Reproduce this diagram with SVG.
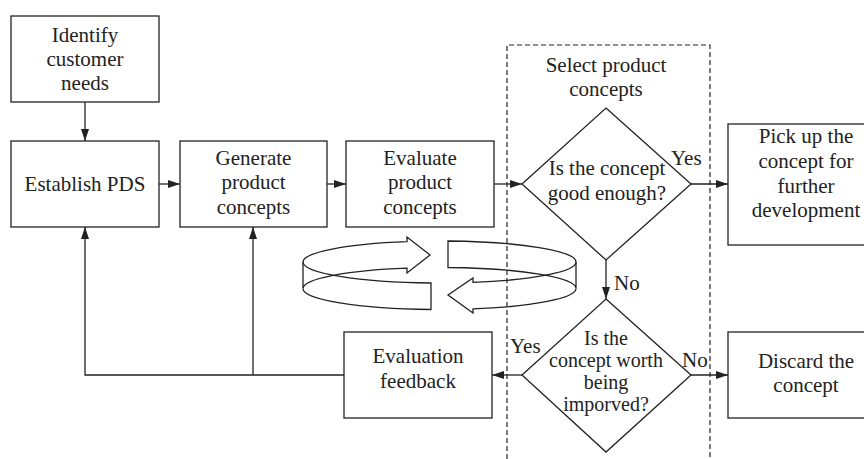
<svg xmlns="http://www.w3.org/2000/svg" width="864" height="459" viewBox="0 0 864 459">
<defs>
<style>
.box{fill:#fff;stroke:#222;stroke-width:1.3}
.ln{fill:none;stroke:#222;stroke-width:1.3}
.ring{fill:none;stroke:#222;stroke-width:1.3;stroke-linejoin:miter}
.dash{fill:none;stroke:#222;stroke-width:1.2;stroke-dasharray:5,3}
text{font-family:"Liberation Serif","Times New Roman",serif;font-size:21px;fill:#222;text-anchor:middle}
.lab{text-anchor:start}
.sm{font-size:20px}
</style>
<marker id="ah" viewBox="0 0 12 8" refX="12" refY="4" markerWidth="12" markerHeight="8" markerUnits="userSpaceOnUse" orient="auto">
<path d="M0,0 L12,4 L0,8 Z" fill="#222"/>
</marker>
</defs>
<rect width="864" height="459" fill="#fff"/>

<g id="cycle">
<path class="ring" d="M303,262 A136.5,21 0 0 1 407,241.6 L407,237 L430,255 L407,273 L407,268.1 A136.5,21 0 0 0 303,288.5 Z"/>
<path class="ring" d="M303,262 A136.5,21 0 0 0 431,283 L431,309.5 A136.5,21 0 0 1 303,288.5"/>
<path class="ring" d="M448,241 L448,267.5 A136.5,21 0 0 1 576,288.5 L576,262 A136.5,21 0 0 0 448,241 Z"/>
<path class="ring" d="M576,262 A136.5,21 0 0 1 473,282.4 L473,278 L448,295 L473,313 L473,308.9 A136.5,21 0 0 0 576,288.5"/>
</g>

<g id="select-group">
<path class="dash" d="M507,459 L507,45 L710,45 L710,459"/>
<text x="606" y="72">Select product</text>
<text x="606" y="96">concepts</text>
</g>

<g id="connectors">
<path class="ln" d="M85,102 L85,141" marker-end="url(#ah)"/>
<path class="ln" d="M159,184 L180,184" marker-end="url(#ah)"/>
<path class="ln" d="M327,184 L346,184" marker-end="url(#ah)"/>
<path class="ln" d="M494,184 L522,184" marker-end="url(#ah)"/>
<path class="ln" d="M691,184 L728,184" marker-end="url(#ah)"/>
<path class="ln" d="M606,260 L606,299" marker-end="url(#ah)"/>
<path class="ln" d="M522,375 L492,375" marker-end="url(#ah)"/>
<path class="ln" d="M691,375 L728,375" marker-end="url(#ah)"/>
<path class="ln" d="M344,375 L85,375 L85,227" marker-end="url(#ah)"/>
<path class="ln" d="M253,375 L253,227" marker-end="url(#ah)"/>
<text class="lab" x="671" y="165">Yes</text>
<text class="lab" x="614" y="290">No</text>
<text class="lab" x="510" y="353">Yes</text>
<text class="lab" x="682" y="367">No</text>
</g>

<g id="identify">
<rect class="box" x="11" y="16" width="148" height="86"/>
<text x="85" y="42">Identify</text>
<text x="85" y="66">customer</text>
<text x="85" y="90">needs</text>
</g>

<g id="establish">
<rect class="box" x="11" y="141" width="148" height="86"/>
<text x="85" y="191">Establish PDS</text>
</g>

<g id="generate">
<rect class="box" x="180" y="141" width="147" height="86"/>
<text x="253.5" y="165">Generate</text>
<text x="253.5" y="189">product</text>
<text x="253.5" y="214">concepts</text>
</g>

<g id="evaluate">
<rect class="box" x="346" y="141" width="148" height="86"/>
<text x="420" y="165">Evaluate</text>
<text x="420" y="189">product</text>
<text x="420" y="214">concepts</text>
</g>

<g id="decision-good">
<path class="box" d="M606,108 L691,184 L606,260 L522,184 Z"/>
<text x="607" y="175">Is the concept</text>
<text x="607" y="200">good enough?</text>
</g>

<g id="pickup">
<rect class="box" x="728" y="124" width="156" height="121"/>
<text x="806" y="143">Pick up the</text>
<text x="806" y="168">concept for</text>
<text x="806" y="193">further</text>
<text x="806" y="217">development</text>
</g>

<g id="decision-improve">
<path class="box" d="M606,299 L691,375 L606,452 L522,375 Z"/>
<text class="sm" x="606" y="345">Is the</text>
<text class="sm" x="606" y="367">concept worth</text>
<text class="sm" x="606" y="389">being</text>
<text class="sm" x="606" y="411">imporved?</text>
</g>

<g id="feedback">
<rect class="box" x="344" y="332" width="148" height="86"/>
<text x="418" y="363">Evaluation</text>
<text x="418" y="388">feedback</text>
</g>

<g id="discard">
<rect class="box" x="728" y="332" width="156" height="86"/>
<text x="806" y="368">Discard the</text>
<text x="806" y="392">concept</text>
</g>
</svg>
